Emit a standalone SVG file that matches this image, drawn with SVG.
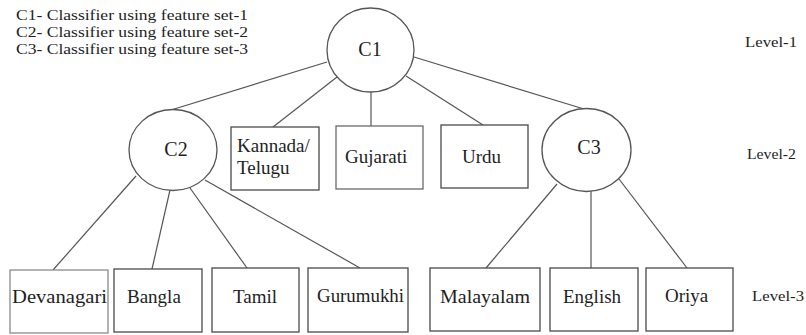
<svg xmlns="http://www.w3.org/2000/svg" width="806" height="335" viewBox="0 0 806 335">
  <style>
    .bg { fill: #ffffff; }
    .circ { fill: #ffffff; stroke: #555555; stroke-width: 1.3; }
    .box { fill: #ffffff; stroke: #4a4a4a; stroke-width: 1.3; }
    .edge { stroke: #555555; stroke-width: 1.2; fill: none; }
    text { font-family: "Liberation Serif", "Times New Roman", "DejaVu Serif", serif; fill: #1e1e1e; }
    .lbl { font-size: 19px; }
    .cl { font-size: 20px; text-anchor: middle; }
    .lvl { font-size: 15.5px; }
    .key { font-size: 15px; }
  </style>
  <rect class="bg" x="0" y="0" width="806" height="335"/>

  <!-- legend -->
  <g id="legend">
    <text class="key" x="16" y="20" textLength="232" lengthAdjust="spacingAndGlyphs">C1- Classifier using feature set-1</text>
    <text class="key" x="16" y="37" textLength="232" lengthAdjust="spacingAndGlyphs">C2- Classifier using feature set-2</text>
    <text class="key" x="16" y="54" textLength="232" lengthAdjust="spacingAndGlyphs">C3- Classifier using feature set-3</text>
  </g>

  <!-- level captions -->
  <g id="levels">
    <text class="lvl" x="745" y="47" textLength="52" lengthAdjust="spacingAndGlyphs">Level-1</text>
    <text class="lvl" x="747" y="159" textLength="49" lengthAdjust="spacingAndGlyphs">Level-2</text>
    <text class="lvl" x="752" y="301" textLength="52" lengthAdjust="spacingAndGlyphs">Level-3</text>
  </g>

  <!-- connectors -->
  <g id="connectors">
    <line class="edge" x1="327" y1="62" x2="171" y2="110"/>
    <line class="edge" x1="337" y1="77" x2="273" y2="127"/>
    <line class="edge" x1="371" y1="92" x2="371" y2="126"/>
    <line class="edge" x1="406" y1="76" x2="483" y2="125"/>
    <line class="edge" x1="414" y1="57" x2="584" y2="109"/>

    <line class="edge" x1="136" y1="176" x2="53" y2="270"/>
    <line class="edge" x1="170" y1="190" x2="152" y2="269"/>
    <line class="edge" x1="190" y1="188" x2="247" y2="268"/>
    <line class="edge" x1="205" y1="180" x2="360" y2="268"/>

    <line class="edge" x1="557" y1="184" x2="486" y2="268"/>
    <line class="edge" x1="591" y1="191" x2="591" y2="268"/>
    <line class="edge" x1="619" y1="179" x2="687" y2="268"/>
  </g>

  <!-- classifiers -->
  <g id="C1">
    <ellipse class="circ" cx="370.5" cy="50" rx="43.5" ry="42"/>
    <text class="cl" x="370" y="56">C1</text>
  </g>
  <g id="C2">
    <ellipse class="circ" cx="173" cy="150" rx="44" ry="40.5"/>
    <text class="cl" x="176" y="156">C2</text>
  </g>
  <g id="C3">
    <ellipse class="circ" cx="586.5" cy="150" rx="44.5" ry="41.5"/>
    <text class="cl" x="589" y="154">C3</text>
  </g>

  <!-- level-2 scripts -->
  <g id="kannada-telugu">
    <rect class="box" x="231" y="127" width="88" height="63"/>
    <text class="lbl" x="237" y="152">Kannada/</text>
    <text class="lbl" x="237" y="174">Telugu</text>
  </g>
  <g id="gujarati">
    <rect class="box" x="336" y="126" width="87" height="63" style="stroke:#6a6a6a"/>
    <text class="lbl" x="345" y="163">Gujarati</text>
  </g>
  <g id="urdu">
    <rect class="box" x="441" y="125" width="87" height="63"/>
    <text class="lbl" x="462" y="163">Urdu</text>
  </g>

  <!-- level-3 scripts -->
  <g id="devanagari">
    <rect class="box" x="10" y="270" width="98" height="63" style="stroke:#8a8a8a"/>
    <text class="lbl" x="12" y="303" textLength="95" lengthAdjust="spacingAndGlyphs">Devanagari</text>
  </g>
  <g id="bangla">
    <rect class="box" x="114" y="269" width="88" height="63"/>
    <text class="lbl" x="127" y="303">Bangla</text>
  </g>
  <g id="tamil">
    <rect class="box" x="212" y="268" width="87" height="64"/>
    <text class="lbl" x="233" y="303">Tamil</text>
  </g>
  <g id="gurumukhi">
    <rect class="box" x="308" y="268" width="100" height="64"/>
    <text class="lbl" x="317" y="302" textLength="87" lengthAdjust="spacingAndGlyphs">Gurumukhi</text>
  </g>
  <g id="malayalam">
    <rect class="box" x="430" y="268" width="110" height="63"/>
    <text class="lbl" x="440" y="303" textLength="90" lengthAdjust="spacingAndGlyphs">Malayalam</text>
  </g>
  <g id="english">
    <rect class="box" x="550" y="268" width="88" height="63"/>
    <text class="lbl" x="563" y="303">English</text>
  </g>
  <g id="oriya">
    <rect class="box" x="646" y="268" width="87" height="63"/>
    <text class="lbl" x="665" y="302">Oriya</text>
  </g>
</svg>
